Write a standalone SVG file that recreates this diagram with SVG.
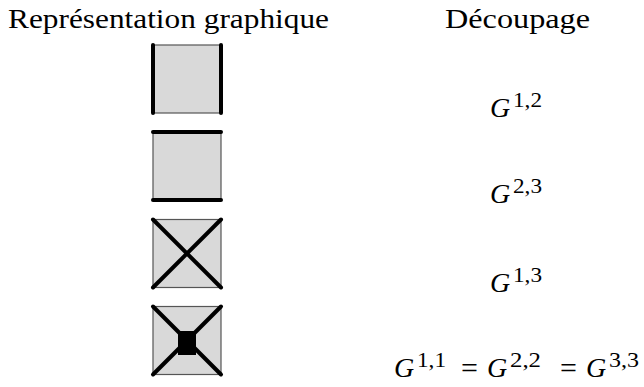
<svg xmlns="http://www.w3.org/2000/svg" width="644" height="387" viewBox="0 0 644 387">
<style>
.sq{fill:#d9d9d9;stroke:#555;stroke-width:1.2}
.th{stroke:#000;stroke-width:4;stroke-linecap:round;fill:none}
.g{font-size:28px;font-style:italic}
.s{font-size:21px}
.eq{font-size:30px;text-anchor:middle}
</style>
<rect width="644" height="387" fill="#fff"/>
<g id="headers" font-family="Liberation Serif, DejaVu Serif, serif" font-size="27" fill="#000">
<text x="8" y="28" textLength="321" lengthAdjust="spacingAndGlyphs">Représentation graphique</text>
<text x="445" y="28" textLength="145" lengthAdjust="spacingAndGlyphs">Découpage</text>
</g>
<g id="node-g12">
<rect class="sq" x="153" y="45" width="68" height="68"/>
<line class="th" x1="153" y1="45" x2="153" y2="113"/>
<line class="th" x1="221" y1="45" x2="221" y2="113"/>
</g>
<g id="node-g23">
<rect class="sq" x="153" y="132" width="68" height="68"/>
<line class="th" x1="153" y1="132" x2="221" y2="132"/>
<line class="th" x1="153" y1="200" x2="221" y2="200"/>
</g>
<g id="node-g13">
<rect class="sq" x="153" y="219.5" width="68" height="68"/>
<line class="th" x1="153" y1="219.5" x2="221" y2="287.5"/>
<line class="th" x1="221" y1="219.5" x2="153" y2="287.5"/>
</g>
<g id="node-gdiag">
<rect class="sq" x="153" y="306.5" width="68" height="68"/>
<line class="th" x1="153" y1="306.5" x2="221" y2="374.5"/>
<line class="th" x1="221" y1="306.5" x2="153" y2="374.5"/>
<rect x="178" y="331" width="18" height="24" fill="#000"/>
</g>
<g id="labels" font-family="Liberation Serif, DejaVu Serif, serif" fill="#000">
<g id="label-g12">
<text class="g" x="490" y="116.7">G</text>
<text class="s" x="513" y="106.5" textLength="29" lengthAdjust="spacingAndGlyphs">1,2</text>
</g>
<g id="label-g23">
<text class="g" x="490" y="203.3">G</text>
<text class="s" x="513" y="193.1" textLength="29" lengthAdjust="spacingAndGlyphs">2,3</text>
</g>
<g id="label-g13">
<text class="g" x="490" y="291.7">G</text>
<text class="s" x="513" y="281.5" textLength="29" lengthAdjust="spacingAndGlyphs">1,3</text>
</g>
<g id="label-gdiag">
<text class="g" x="394" y="377.3">G</text>
<text class="s" x="417" y="367.1" textLength="29" lengthAdjust="spacingAndGlyphs">1,1</text>
<text class="eq" x="469.5" y="378">=</text>
<text class="g" x="487" y="377.3">G</text>
<text class="s" x="510" y="367.1" textLength="31" lengthAdjust="spacingAndGlyphs">2,2</text>
<text class="eq" x="568.5" y="378">=</text>
<text class="g" x="586" y="377.3">G</text>
<text class="s" x="609" y="367.1" textLength="30" lengthAdjust="spacingAndGlyphs">3,3</text>
</g>
</g>
</svg>
